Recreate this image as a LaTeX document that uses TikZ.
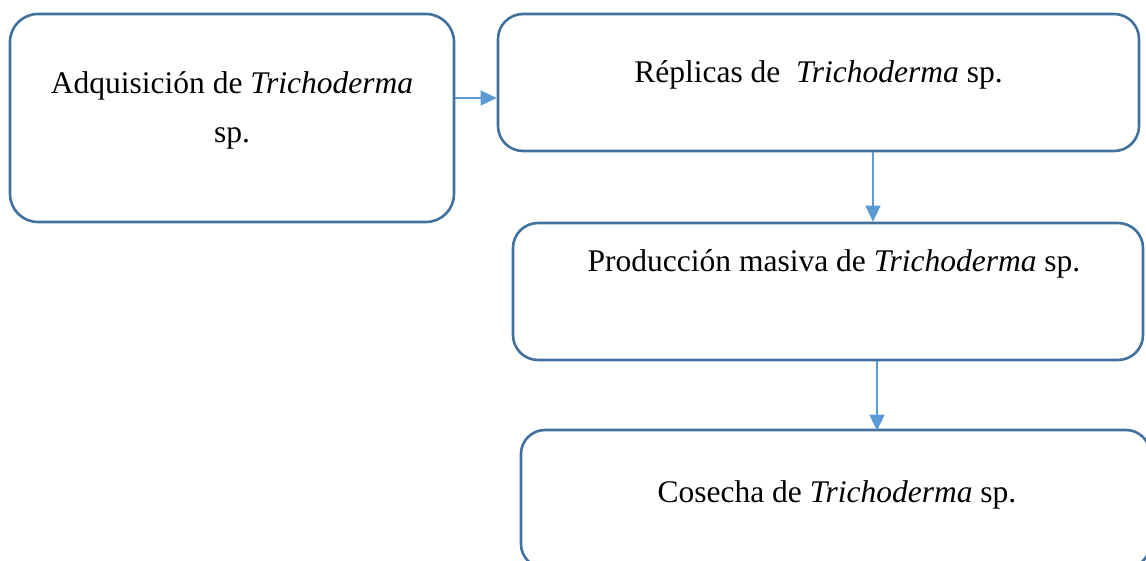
\documentclass[tikz,border=0pt]{standalone}
\usepackage{fontspec}
\setmainfont{Liberation Serif}
\usetikzlibrary{arrows.meta}
\definecolor{boxline}{HTML}{41719C}
\definecolor{arrowblue}{HTML}{5B9BD5}
\begin{document}
\begin{tikzpicture}[x=1pt,y=-1pt,
  box/.style={draw=boxline, line width=2.6pt, rounded corners=#1, inner sep=0pt},
  box/.default=25pt,
  lbl/.style={font=\fontsize{31.5}{49}\selectfont, inner sep=0pt, align=center},
  arr/.style={draw=arrowblue, line width=1.3pt, -{Triangle[length=16pt,width=15pt]}}]
\useasboundingbox (0,0) rectangle (1146,561);
\clip (0,0) rectangle (1146,561);
% boxes
\node[box=28pt, minimum width=444pt, minimum height=208pt] (b1) at (232,118) {};
\node[box, minimum width=641pt, minimum height=137pt] (b2) at (818.5,82.5) {};
\node[box, minimum width=630pt, minimum height=137pt] (b3) at (828,291.5) {};
\node[box=24pt, minimum width=629pt, minimum height=138pt] (b4) at (835.5,499) {};
% texts
\node[lbl, anchor=center] (t1) at (232,110) {Adquisición de \textit{Trichoderma}\\sp.};
\node[lbl, anchor=base] (t2) at (818.5,83) {Réplicas de \ \textit{Trichoderma} sp.};
\node[lbl, anchor=base] (t3) at (834,272) {Producción masiva de \textit{Trichoderma} sp.};
\node[lbl, anchor=base] (t4) at (837,502) {Cosecha de \textit{Trichoderma} sp.};
% connectors
\draw[arr] ([yshift=20pt]b1.east) -- ([yshift=20pt]b1.east -| b2.west);
\draw[arr] ([xshift=54.5pt]b2.south) -- ([xshift=54.5pt]b2.south |- b3.north);
\draw[arr] ([xshift=49pt]b3.south) -- ([xshift=49pt,yshift=-2pt]b3.south |- b4.north);
\end{tikzpicture}
\end{document}
